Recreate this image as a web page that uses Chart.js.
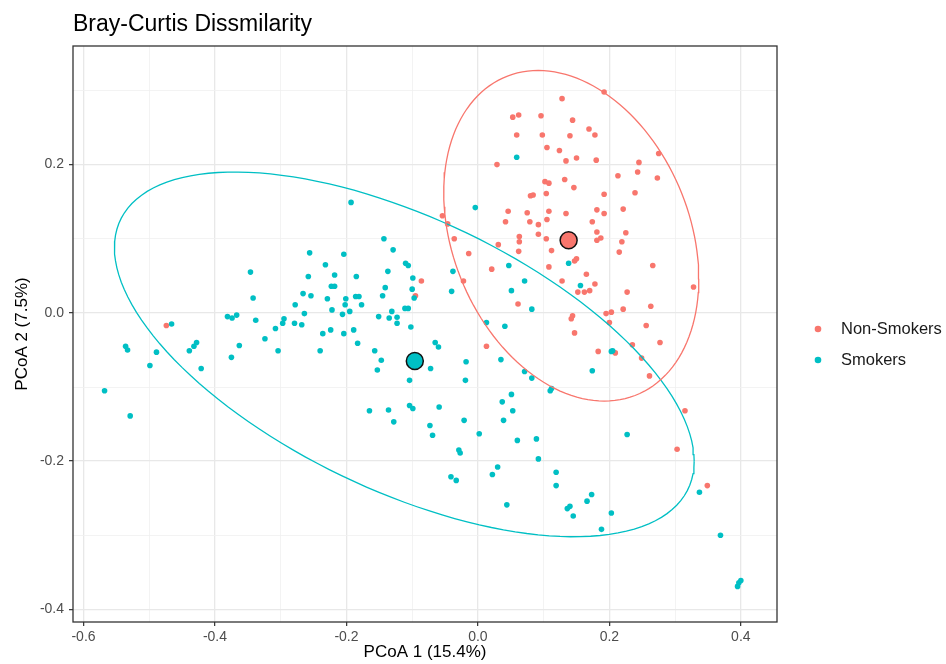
<!DOCTYPE html>
<html>
<head>
<meta charset="utf-8">
<script src="https://cdn.jsdelivr.net/npm/chart.js@4.4.0/dist/chart.umd.min.js"></script>
<style>
    html, body { margin: 0; padding: 0; background: #fff; }
</style>
</head>
<body>
<canvas id="myChart" width="946" height="664"></canvas>
<script>
// PCoA coordinates, [PCoA 1, PCoA 2]
const nonSmokers = [
    [-0.474, -0.017], [-0.054, 0.131], [-0.046, 0.120], [-0.036, 0.100], [-0.014, 0.080], [-0.086, 0.043],
    [-0.022, 0.043], [-0.095, 0.023],
    [0.192, 0.298], [0.128, 0.289], [0.053, 0.264], [0.062, 0.267], [0.096, 0.266], [0.144, 0.260],
    [0.169, 0.248], [0.178, 0.240], [0.059, 0.240], [0.098, 0.240], [0.140, 0.239], [0.105, 0.223],
    [0.124, 0.219], [0.134, 0.205], [0.150, 0.209], [0.180, 0.206], [0.275, 0.215], [0.029, 0.200],
    [0.245, 0.203], [0.243, 0.190], [0.213, 0.185], [0.273, 0.182], [0.132, 0.180], [0.102, 0.177],
    [0.108, 0.175], [0.146, 0.169], [0.104, 0.161], [0.080, 0.158], [0.084, 0.159], [0.192, 0.160],
    [0.239, 0.162], [0.046, 0.137], [0.075, 0.135], [0.108, 0.137], [0.134, 0.134], [0.181, 0.139],
    [0.192, 0.134], [0.221, 0.140], [0.042, 0.123], [0.079, 0.123], [0.092, 0.119], [0.105, 0.126],
    [0.174, 0.123], [0.063, 0.103], [0.063, 0.096], [0.092, 0.106], [0.104, 0.100], [0.181, 0.109],
    [0.181, 0.098], [0.187, 0.101], [0.225, 0.108], [0.219, 0.096], [0.031, 0.092], [0.062, 0.083],
    [0.112, 0.084], [0.215, 0.082],
    [0.147, 0.070], [0.150, 0.073], [0.021, 0.059], [0.108, 0.062], [0.266, 0.064], [0.165, 0.052],
    [0.128, 0.043], [0.178, 0.039], [0.152, 0.028], [0.162, 0.028], [0.170, 0.030], [0.227, 0.028],
    [0.328, 0.035], [0.061, 0.012], [0.221, 0.005], [0.263, 0.009], [0.195, -0.001], [0.203, 0.001],
    [0.144, -0.004], [0.142, -0.008], [0.200, -0.013], [0.256, -0.017], [0.147, -0.027], [0.277, -0.040],
    [0.013, -0.045], [0.183, -0.052], [0.209, -0.054], [0.235, -0.043], [0.249, -0.061], [0.261, -0.085],
    [0.315, -0.132], [0.303, -0.184], [0.349, -0.233]
];

const smokers = [
    [-0.346, 0.055], [-0.342, 0.020], [-0.381, -0.005], [-0.374, -0.007], [-0.367, -0.003], [-0.338, -0.010],
    [-0.466, -0.015], [-0.295, -0.008], [-0.297, -0.014], [-0.308, -0.021], [-0.536, -0.045], [-0.533, -0.050],
    [-0.489, -0.053], [-0.499, -0.071], [-0.439, -0.051], [-0.432, -0.045], [-0.428, -0.040], [-0.421, -0.075],
    [-0.375, -0.060], [-0.363, -0.044], [-0.324, -0.035], [-0.304, -0.051], [-0.568, -0.105], [-0.529, -0.139],
    [-0.193, 0.149], [-0.004, 0.142], [-0.143, 0.100], [-0.129, 0.085], [-0.256, 0.081], [-0.204, 0.079],
    [-0.232, 0.065], [-0.110, 0.067], [-0.106, 0.064], [-0.137, 0.056], [-0.038, 0.056], [-0.258, 0.049],
    [-0.218, 0.051], [-0.185, 0.049], [-0.099, 0.047], [-0.223, 0.036], [-0.218, 0.036], [-0.141, 0.034],
    [-0.100, 0.032], [-0.040, 0.029], [-0.266, 0.026], [-0.254, 0.023], [-0.186, 0.022], [-0.181, 0.022],
    [-0.145, 0.023], [-0.229, 0.019], [-0.201, 0.019], [-0.097, 0.020], [-0.278, 0.011], [-0.202, 0.011],
    [-0.177, 0.011], [-0.222, 0.004], [-0.195, 0.002], [-0.111, 0.006], [-0.106, 0.006], [-0.264, -0.001],
    [-0.206, -0.002], [-0.131, 0.002], [-0.151, -0.005], [-0.135, -0.007], [-0.123, -0.006], [-0.279, -0.014],
    [-0.268, -0.016], [-0.123, -0.014], [-0.102, -0.019], [-0.224, -0.023], [-0.236, -0.028], [-0.189, -0.023],
    [-0.204, -0.028], [-0.183, -0.041], [-0.240, -0.051], [-0.157, -0.051], [-0.147, -0.064], [-0.153, -0.077],
    [-0.065, -0.040], [-0.060, -0.046], [-0.072, -0.075], [-0.104, -0.091], [-0.018, -0.066], [-0.019, -0.091],
    [-0.165, -0.132], [-0.136, -0.131], [-0.128, -0.147], [-0.104, -0.125], [-0.099, -0.129], [-0.059, -0.127],
    [-0.073, -0.152], [-0.069, -0.165], [-0.021, -0.145], [0.002, -0.163], [-0.029, -0.185], [-0.027, -0.189],
    [-0.041, -0.221], [-0.033, -0.226], [0.039, -0.145], [0.060, -0.172], [0.089, -0.170], [0.092, -0.197],
    [0.030, -0.208], [0.022, -0.218], [0.059, 0.210], [0.138, 0.067], [0.047, 0.064], [0.071, 0.043],
    [0.156, 0.037], [0.051, 0.030], [0.082, 0.005], [0.013, -0.013], [0.041, -0.018], [0.203, -0.052],
    [0.205, -0.051], [0.035, -0.063], [0.071, -0.079], [0.082, -0.088], [0.174, -0.078], [0.110, -0.105],
    [0.112, -0.102], [0.051, -0.110], [0.037, -0.120], [0.053, -0.132], [0.227, -0.164], [0.119, -0.215],
    [0.119, -0.233], [0.044, -0.259], [0.136, -0.264], [0.140, -0.261], [0.145, -0.274], [0.166, -0.254],
    [0.173, -0.245], [0.203, -0.270], [0.188, -0.292], [0.337, -0.242], [0.369, -0.300], [0.395, -0.369],
    [0.397, -0.364], [0.400, -0.361]
];

const nonSmokersCentroid = [0.138, 0.098];
const smokersCentroid = [-0.096, -0.065];

// ellipse: centre x, centre y, half width, half height, y offset at the widest point
const nonSmokersEllipse = [0.142, 0.104, 0.194, 0.223, -0.058];
const smokersEllipse = [-0.112, -0.056, 0.441, 0.246, -0.144];

const xMajorTicks = [-0.6, -0.4, -0.2, 0.0, 0.2, 0.4];
const xMinorTicks = [-0.5, -0.3, -0.1, 0.1, 0.3];
const yMajorTicks = [-0.4, -0.2, 0.0, 0.2];
const yMinorTicks = [-0.3, -0.1, 0.1, 0.3];

const RED = '#F8766D';
const TEAL = '#00BFC4';
const FONT = '"Liberation Sans", Arial, sans-serif';

function toPoints(list) {
    return list.map(p => ({ x: p[0], y: p[1] }));
}

function ellipseOutline(e) {
    const [cx, cy, w, h, k] = e;
    const r = Math.sqrt(h * h - k * k);
    const pts = [];
    for (let i = 0; i <= 144; i++) {
        const t = i / 144 * 2 * Math.PI;
        pts.push({ x: cx + w * Math.cos(t), y: cy + k * Math.cos(t) + r * Math.sin(t) });
    }
    return pts;
}

function isMajor(v, majors) {
    return majors.some(m => Math.abs(m - v) < 1e-6);
}

function gridOptions(majors) {
    return {
        color: c => isMajor(c.tick.value, majors) ? '#e8e8e8' : '#f0f0f0',
        lineWidth: c => isMajor(c.tick.value, majors) ? 1.3 : 0.8,
        tickColor: c => isMajor(c.tick.value, majors) ? '#333333' : 'rgba(0,0,0,0)',
        tickLength: 4,
        tickWidth: 1.2
    };
}

const frameAndText = {
    id: 'frameAndText',
    afterDraw(chart) {
        const c = chart.ctx;
        const a = chart.chartArea;
        c.save();
        c.strokeStyle = '#333333';
        c.lineWidth = 1.3;
        c.strokeRect(a.left, a.top, a.right - a.left, a.bottom - a.top);

        c.fillStyle = '#000';
        c.font = '23px ' + FONT;
        c.textBaseline = 'alphabetic';
        c.fillText('Bray-Curtis Dissmilarity', 73, 31);

        const legend = [['Non-Smokers', RED, 329], ['Smokers', TEAL, 360]];
        c.font = '16.5px ' + FONT;
        c.textBaseline = 'middle';
        legend.forEach(([label, color, y]) => {
            c.fillStyle = color;
            c.beginPath();
            c.arc(818, y, 3.3, 0, 2 * Math.PI);
            c.fill();
            c.fillStyle = '#1a1a1a';
            c.fillText(label, 841, y);
        });
        c.restore();
    }
};

const ctx = document.getElementById('myChart').getContext('2d');
const myChart = new Chart(ctx, {
    type: 'scatter',
    data: {
        datasets: [
            {
                label: 'Non-Smokers',
                data: toPoints(nonSmokers),
                backgroundColor: RED,
                borderWidth: 0,
                pointRadius: 2.8,
                order: 4
            },
            {
                label: 'Smokers',
                data: toPoints(smokers),
                backgroundColor: TEAL,
                borderWidth: 0,
                pointRadius: 2.8,
                order: 3
            },
            {
                type: 'line',
                data: ellipseOutline(nonSmokersEllipse),
                borderColor: RED,
                borderWidth: 1.3,
                pointRadius: 0,
                fill: false,
                tension: 0,
                order: 2
            },
            {
                type: 'line',
                data: ellipseOutline(smokersEllipse),
                borderColor: TEAL,
                borderWidth: 1.3,
                pointRadius: 0,
                fill: false,
                tension: 0,
                order: 2
            },
            {
                data: [
                    { x: nonSmokersCentroid[0], y: nonSmokersCentroid[1] },
                    { x: smokersCentroid[0], y: smokersCentroid[1] }
                ],
                backgroundColor: [RED, TEAL],
                borderColor: '#111',
                borderWidth: 1.5,
                pointRadius: 8.5,
                order: 1
            }
        ]
    },
    options: {
        responsive: false,
        animation: false,
        devicePixelRatio: 1,
        layout: { padding: { top: 46, right: 169, left: 0, bottom: 0 } },
        plugins: {
            legend: { display: false },
            tooltip: { enabled: false }
        },
        scales: {
            x: {
                type: 'linear',
                min: -0.616,
                max: 0.455,
                afterBuildTicks: s => { s.ticks = xMajorTicks.concat(xMinorTicks).sort((a, b) => a - b).map(v => ({ value: v })); },
                afterFit: s => { s.height = 42; },
                ticks: {
                    autoSkip: false,
                    maxRotation: 0,
                    padding: 3,
                    color: '#4d4d4d',
                    font: { family: FONT, size: 14 },
                    callback: v => isMajor(v, xMajorTicks) ? v.toFixed(1) : ''
                },
                grid: gridOptions(xMajorTicks),
                border: { display: false },
                title: {
                    display: true,
                    text: 'PCoA 1 (15.4%)',
                    color: '#000',
                    font: { family: FONT, size: 17 },
                    padding: { top: 1, bottom: 1 }
                }
            },
            y: {
                type: 'linear',
                min: -0.417,
                max: 0.360,
                afterBuildTicks: s => { s.ticks = yMajorTicks.concat(yMinorTicks).sort((a, b) => a - b).map(v => ({ value: v })); },
                afterFit: s => { s.width = 73; },
                ticks: {
                    autoSkip: false,
                    padding: 5,
                    color: '#4d4d4d',
                    font: { family: FONT, size: 14 },
                    callback: v => isMajor(v, yMajorTicks) ? v.toFixed(1) : ''
                },
                grid: gridOptions(yMajorTicks),
                border: { display: false },
                title: {
                    display: true,
                    text: 'PCoA 2 (7.5%)',
                    color: '#000',
                    font: { family: FONT, size: 17 },
                    padding: { top: 12, bottom: 12 }
                }
            }
        }
    },
    plugins: [frameAndText]
});
</script>
</body>
</html>
